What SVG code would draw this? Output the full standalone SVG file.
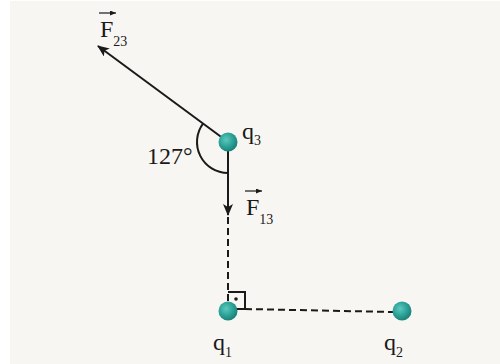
<svg xmlns="http://www.w3.org/2000/svg" width="500" height="364" viewBox="0 0 500 364">
<defs>
<radialGradient id="ball" cx="0.4" cy="0.38" r="0.65">
<stop offset="0" stop-color="#5cc9bd"/>
<stop offset="0.6" stop-color="#2a9f95"/>
<stop offset="1" stop-color="#1b7d75"/>
</radialGradient>
<marker id="ah" viewBox="0 0 12 10" refX="11" refY="5" markerWidth="12" markerHeight="10" markerUnits="userSpaceOnUse" orient="auto">
<path d="M0,0 L12,5 L0,10 L3,5 Z" fill="#1a1a1a"/>
</marker>
<marker id="vh" viewBox="0 0 6 5" refX="6" refY="2.5" markerWidth="6" markerHeight="5" markerUnits="userSpaceOnUse" orient="auto">
<path d="M0,0 L6,2.5 L0,5 Z" fill="#1a1a1a"/>
</marker>
</defs>
<style>
.t{font-family:"Liberation Serif","DejaVu Serif",serif;fill:#1a1a1a}
.m{font-size:24px}
.s{font-size:14px}
.ln{stroke:#1a1a1a;stroke-width:2;fill:none}
.d{stroke:#1a1a1a;stroke-width:2;fill:none;stroke-dasharray:7,4}
.vec{stroke:#1a1a1a;stroke-width:1.2}
</style>
<rect x="10" y="1" width="490" height="363" fill="#f8f6f2"/>
<g id="connectors">
<line class="ln" x1="224" y1="139" x2="98" y2="46" marker-end="url(#ah)"/>
<line class="ln" x1="228" y1="148" x2="228" y2="215" marker-end="url(#ah)"/>
<line class="d" x1="228" y1="217" x2="228" y2="302"/>
<line class="d" x1="245" y1="309" x2="394" y2="312"/>
<path class="ln" d="M203.2,123.4 A31,31 0 0 0 228,173" stroke-width="1.6"/>
<path class="ln" d="M228,292 H245 V309 H236" stroke-width="1.8"/>
<circle cx="236" cy="299" r="1.8" fill="#1a1a1a"/>
</g>
<g id="q3">
<circle cx="228" cy="142" r="9.5" fill="url(#ball)"/>
<text class="t m" x="242" y="139">q<tspan class="s" dy="6">3</tspan></text>
</g>
<g id="q1">
<circle cx="228" cy="311" r="9.5" fill="url(#ball)"/>
<text class="t m" x="213" y="350">q<tspan class="s" dy="7">1</tspan></text>
</g>
<g id="q2">
<circle cx="402" cy="311" r="9.5" fill="url(#ball)"/>
<text class="t m" x="384" y="350">q<tspan class="s" dy="7">2</tspan></text>
</g>
<g id="F23">
<line class="vec" x1="99" y1="13" x2="116" y2="13" marker-end="url(#vh)"/>
<text class="t m" x="100" y="37">F<tspan class="s" dy="9">23</tspan></text>
</g>
<g id="F13">
<line class="vec" x1="245" y1="191" x2="262" y2="191" marker-end="url(#vh)"/>
<text class="t m" x="246" y="215">F<tspan class="s" dy="9">13</tspan></text>
</g>
<g id="angle">
<text class="t m" x="147" y="164">127°</text>
</g>
</svg>
